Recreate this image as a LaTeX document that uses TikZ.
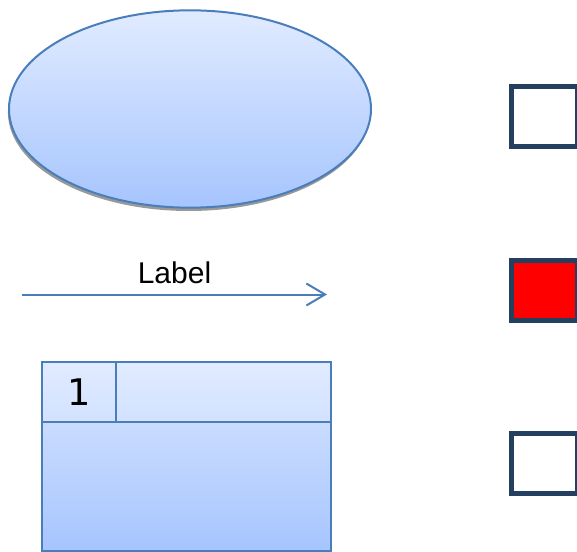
\documentclass[tikz,border=0pt]{standalone}
\usepackage{xcolor}
\usepackage{fontspec}
\setmainfont{Liberation Sans}
\newfontfamily\digitfont{DejaVu Sans}
\usepackage{tikz}
\usetikzlibrary{positioning,shapes.geometric,shadows,arrows.meta}

\definecolor{fillTop}{HTML}{E1EBFF}
\definecolor{fillBot}{HTML}{A6C5FE}
\definecolor{edgeBlue}{HTML}{4A7EBB}
\definecolor{boxNavy}{HTML}{243F60}

\begin{document}
\begin{tikzpicture}[x=0.75pt,y=-0.75pt,
  blueshade/.style={draw=edgeBlue,line width=1.5pt,top color=fillTop,bottom color=fillBot},
  tabcell/.style={blueshade,rectangle,inner sep=0pt},
  flagbox/.style={draw=boxNavy,line width=3.75pt,rectangle,inner sep=0pt,minimum width=49.5pt,minimum height=45pt}]
\useasboundingbox (0,0) rectangle (577,552);
% ellipse
\node[blueshade,ellipse,minimum width=271.5pt,minimum height=148pt,
  drop shadow={shadow xshift=-0.8pt,shadow yshift=-2.5pt,fill=gray!80,opacity=1}] (oval) at (190,109) {};
% arrow with label
\coordinate (from) at (22,294.5);
\coordinate (to) at (327,294.5);
\draw[edgeBlue,line width=1.5pt,-{Straight Barb[length=14pt,width=16.5pt,line width=1.5pt]}]
  (from) -- node[midway,above=7.5pt,inner sep=0pt,text=black,font=\fontsize{22.5}{27}\selectfont] (lbl) {Label} (to);
% table
\node[tabcell,minimum width=216.75pt,minimum height=96.75pt,top color=fillTop!60!fillBot] (body) at (186.5,486.5) {};
\node[tabcell,minimum width=55.5pt,minimum height=45pt,top color=fillTop,bottom color=fillTop!75!fillBot,
  font=\digitfont\fontsize{27.5}{33}\selectfont] (num) at (79,392) {1};
\node[tabcell,minimum width=161.25pt,minimum height=45pt,top color=fillTop,bottom color=fillTop!75!fillBot] (hdr) at (223.5,392) {};
% boxes
\begin{scope}
  \node[flagbox,fill=white] (boxa) at (544,116.5) {};
  \node[flagbox,fill=red] (boxb) at (544,290.5) {};
  \node[flagbox,fill=white] (boxc) at (544,463) {};
\end{scope}
\end{tikzpicture}
\end{document}
